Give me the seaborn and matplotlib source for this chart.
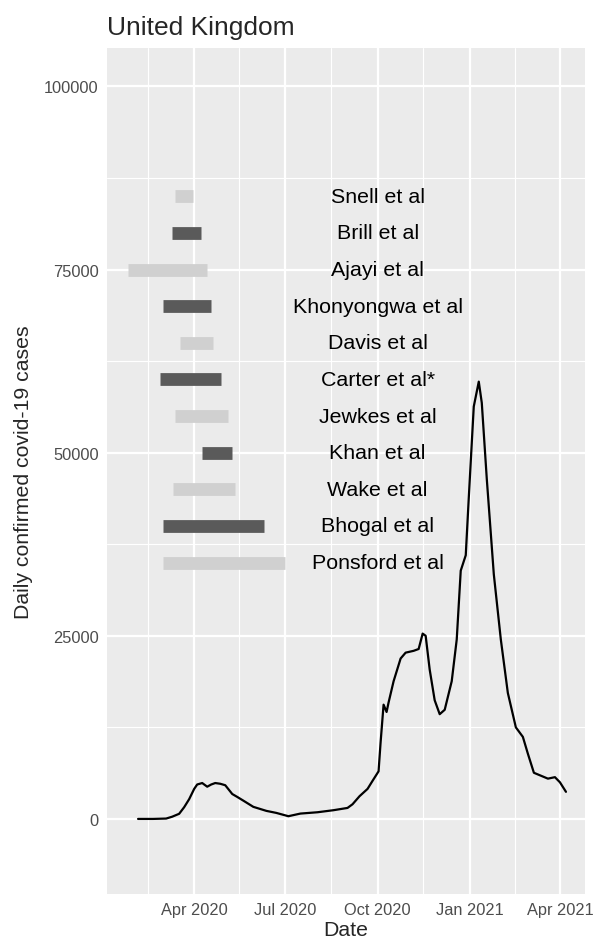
import numpy as np
import pandas as pd
import matplotlib
matplotlib.use("Agg")
import matplotlib.pyplot as plt
import matplotlib.dates as mdates
import seaborn as sns

# --- studies (label, start, end) ---
study_names = ["Snell et al", "Brill et al", "Ajayi et al", "Khonyongwa et al", "Davis et al",
               "Carter et al*", "Jewkes et al", "Khan et al", "Wake et al", "Bhogal et al",
               "Ponsford et al"]
study_start = ["2020-03-13", "2020-03-10", "2020-01-26", "2020-03-01", "2020-03-18",
               "2020-02-27", "2020-03-13", "2020-04-09", "2020-03-11", "2020-03-01",
               "2020-03-01"]
study_end = ["2020-03-31", "2020-04-08", "2020-04-14", "2020-04-18", "2020-04-20",
             "2020-04-28", "2020-05-05", "2020-05-09", "2020-05-12", "2020-06-10",
             "2020-07-01"]
study_y = [85000, 80000, 75000, 70000, 65000, 60000, 55000, 50000, 45000, 40000, 35000]

# --- daily confirmed cases (7 day average) ---
case_dates = ["2020-02-05", "2020-02-20", "2020-03-04", "2020-03-10", "2020-03-17", "2020-03-22",
              "2020-03-27", "2020-04-01", "2020-04-04", "2020-04-09", "2020-04-14", "2020-04-18",
              "2020-04-22", "2020-04-27", "2020-05-02", "2020-05-09", "2020-05-14", "2020-05-20",
              "2020-05-30", "2020-06-12", "2020-06-22", "2020-07-04", "2020-07-16", "2020-08-02",
              "2020-08-18", "2020-09-01", "2020-09-06", "2020-09-13", "2020-09-21", "2020-09-26",
              "2020-10-02", "2020-10-04", "2020-10-07", "2020-10-10", "2020-10-12", "2020-10-17",
              "2020-10-24", "2020-10-29", "2020-11-06", "2020-11-11", "2020-11-15", "2020-11-18",
              "2020-11-22", "2020-11-27", "2020-12-02", "2020-12-07", "2020-12-14", "2020-12-19",
              "2020-12-23", "2020-12-28", "2020-12-31", "2021-01-05", "2021-01-10", "2021-01-13",
              "2021-01-18", "2021-01-25", "2021-02-01", "2021-02-08", "2021-02-16", "2021-02-23",
              "2021-02-28", "2021-03-06", "2021-03-13", "2021-03-20", "2021-03-27", "2021-04-01",
              "2021-04-07"]
case_values = [0, 0, 50, 300, 700, 1600, 2700, 4100, 4700, 4900, 4400, 4700,
               4900, 4800, 4600, 3400, 3000, 2500, 1650, 1100, 820, 370, 730, 910,
               1190, 1500, 2000, 3100, 4100, 5200, 6500, 10400, 15600, 14600, 15900, 18800,
               21900, 22700, 22950, 23200, 25300, 25000, 20400, 16200, 14300, 14900, 18800, 24500,
               33900, 36000, 43800, 56300, 59700, 56800, 46400, 33400, 24500, 17200, 12500, 11200,
               8900, 6300, 5900, 5500, 5700, 5000, 3700]

cases = pd.DataFrame({"date": pd.to_datetime(case_dates), "cases": case_values})

sns.set_theme(style="darkgrid", rc={"axes.facecolor": "#EBEBEB", "grid.color": "white"})
plt.rcParams["font.family"] = ["Liberation Sans", "DejaVu Sans"]

fig = plt.figure(figsize=(5.93, 9.45), dpi=100)
ax = fig.add_axes([107 / 593, 1 - 895 / 945, 478 / 593, 846 / 945])

# study windows, alternating shades
bar_colors = ["#D0D0D0" if i % 2 == 0 else "#5A5A5A" for i in range(len(study_names))]
ax.hlines(study_y, pd.to_datetime(study_start), pd.to_datetime(study_end),
          colors=bar_colors, linewidth=9.2)
for name, y in zip(study_names, study_y):
    ax.text(pd.Timestamp("2020-10-01"), y, name, ha="center", va="center",
            fontsize=15.4, color="black")

sns.lineplot(data=cases, x="date", y="cases", ax=ax, color="black", linewidth=1.6)

ax.set_xlim(pd.Timestamp("2020-01-05"), pd.Timestamp("2021-04-26"))
ax.set_ylim(-10250, 105250)

ax.set_yticks([0, 25000, 50000, 75000, 100000])
ax.set_yticks([12500, 37500, 62500, 87500], minor=True)
ax.set_yticklabels(["0", "25000", "50000", "75000", "100000"])
major_dates = pd.to_datetime(["2020-04-01", "2020-07-01", "2020-10-01", "2021-01-01", "2021-04-01"])
minor_dates = pd.to_datetime(["2020-02-15", "2020-05-16", "2020-08-16", "2020-11-15", "2021-02-15"])
ax.set_xticks(major_dates)
ax.set_xticks(minor_dates, minor=True)
ax.xaxis.set_major_formatter(mdates.DateFormatter("%b %Y"))

ax.grid(which="major", color="white", linewidth=1.6)
ax.grid(which="minor", color="white", linewidth=0.8)
for s in ax.spines.values():
    s.set_visible(False)
ax.tick_params(axis="both", which="major", length=4, width=1, color="#333333",
               labelsize=11.8, labelcolor="#4D4D4D", pad=2)
ax.tick_params(axis="both", which="minor", length=0)

ax.set_xlabel("Date", fontsize=15.3, labelpad=2)
ax.set_ylabel("Daily confirmed covid-19 cases", fontsize=15.3, labelpad=8)
ax.set_title("United Kingdom", loc="left", fontsize=19, pad=10)

fig.savefig("out.png", dpi=100)
